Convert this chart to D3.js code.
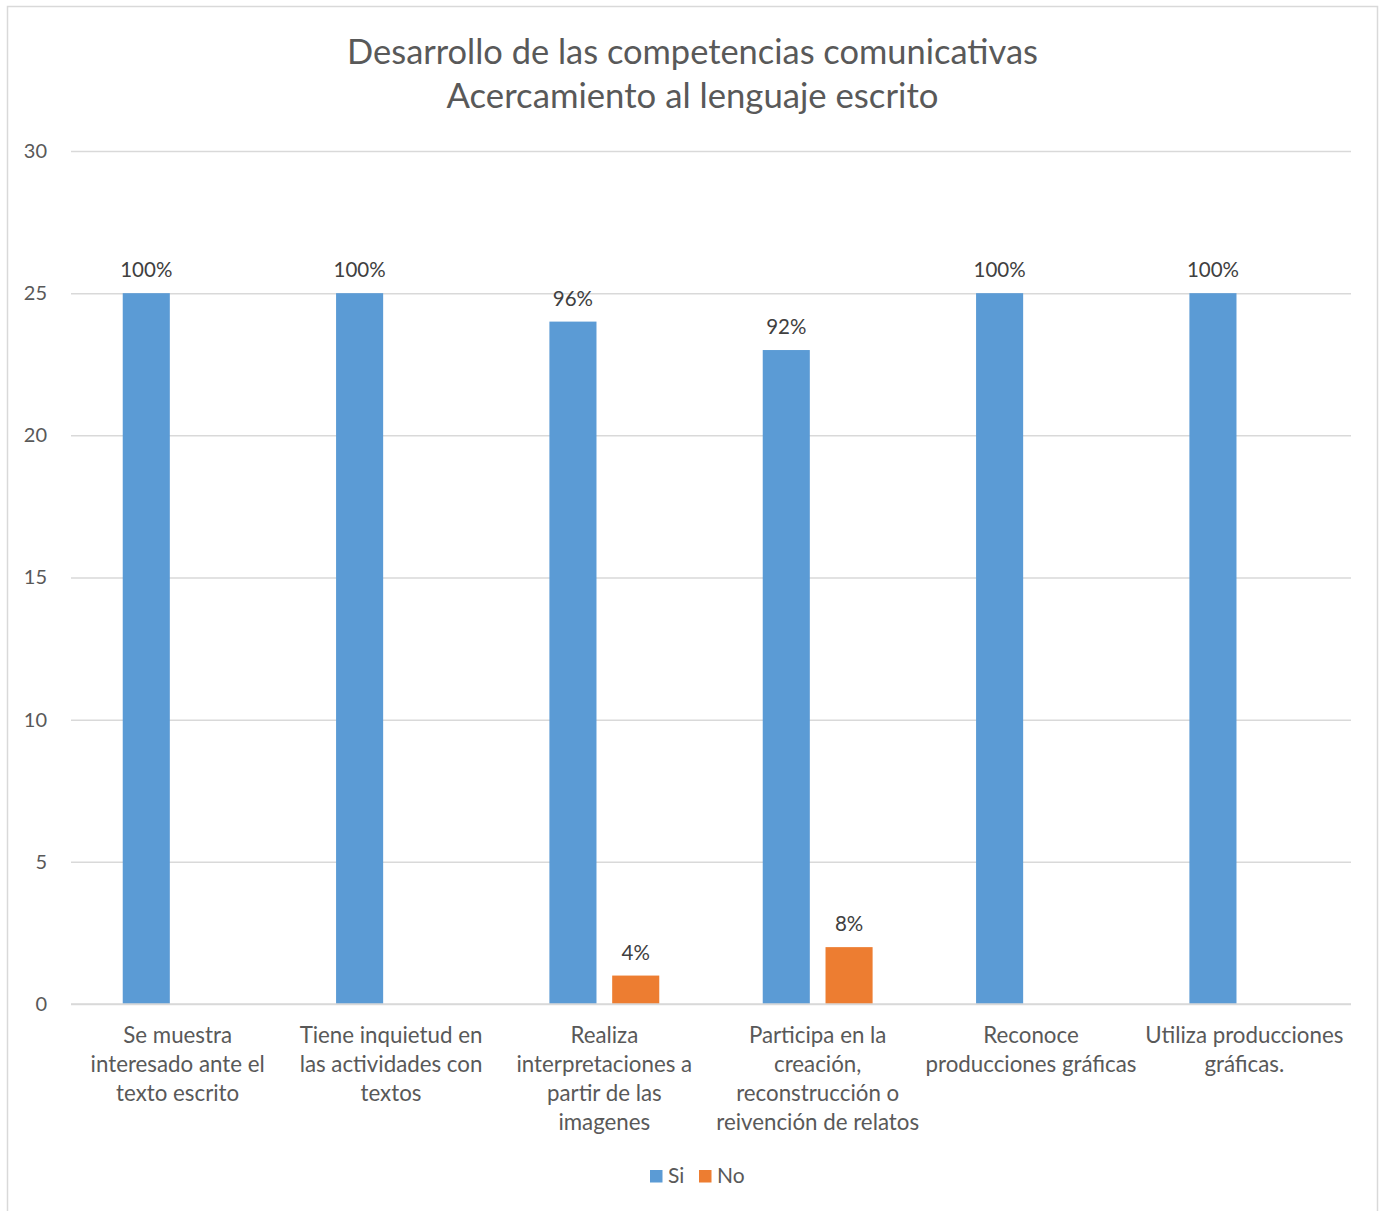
<!DOCTYPE html>
<html>
<head>
<meta charset="utf-8">
<script src="https://cdn.jsdelivr.net/npm/d3@7"></script>
<style>
  html, body { margin: 0; padding: 0; background: #fff; }
  svg { display: block; font-family: Lato, "Open Sans", sans-serif; }
</style>
</head>
<body>
<svg id="chart" width="1380" height="1211"></svg>
<script>
const titleLines = ["Desarrollo de las competencias comunicativas", "Acercamiento al lenguaje escrito"];
const categories = [
  "Se muestra interesado ante el texto escrito",
  "Tiene inquietud en las actividades con textos",
  "Realiza interpretaciones a partir de las imagenes",
  "Participa en la creación, reconstrucción o reivención de relatos",
  "Reconoce producciones gráficas",
  "Utiliza producciones gráficas."
];
const categoryLines = [
  ["Se muestra", "interesado ante el", "texto escrito"],
  ["Tiene inquietud en", "las actividades con", "textos"],
  ["Realiza", "interpretaciones a", "partir de las", "imagenes"],
  ["Participa en la", "creación,", "reconstrucción o", "reivención de relatos"],
  ["Reconoce", "producciones gráficas"],
  ["Utiliza producciones", "gráficas."]
];
const seriesNames = ["Si", "No"];
const siValues = [25, 25, 24, 23, 25, 25];
const noValues = [0, 0, 1, 2, 0, 0];
const siLabels = ["100%", "100%", "96%", "92%", "100%", "100%"];
const noLabels = ["", "", "4%", "8%", "", ""];
const yTicks = [0, 5, 10, 15, 20, 25, 30];

const colors = { Si: "#5b9bd5", No: "#ed7d31" };
const textColor = "#595959";
const gridColor = "#d9d9d9";

const svg = d3.select("#chart");
const plot = { left: 71, right: 1351, top: 151, bottom: 1004 };

// border
svg.append("rect").attr("x", 7.5).attr("y", 6.5).attr("width", 1370).attr("height", 1215)
  .attr("fill", "#fff").attr("stroke", gridColor).attr("stroke-width", 1.5);

// title
const titleTargets = [691, 492];
const titleY = [64, 108];
titleLines.forEach((t, i) => {
  const el = svg.append("text").attr("x", 692.5).attr("y", titleY[i])
    .attr("text-anchor", "middle").attr("fill", textColor)
    .attr("font-size", 32).text(t);
  const w = el.node().getComputedTextLength();
  el.attr("font-size", 32 * titleTargets[i] / w);
});

const y = d3.scaleLinear().domain([0, 30]).range([plot.bottom, plot.top]);
const x0 = d3.scaleBand().domain(categories).range([plot.left, plot.right])
  .paddingInner(0.485).paddingOuter(0.2425);
const x1 = d3.scaleBand().domain(seriesNames).range([0, x0.bandwidth()])
  .paddingInner(0.25).paddingOuter(0);

// gridlines + y axis
const yAxis = d3.axisLeft(y).tickValues(yTicks).tickSize(-(plot.right - plot.left)).tickPadding(24);
const gy = svg.append("g").attr("transform", `translate(${plot.left},0)`).call(yAxis);
gy.select(".domain").remove();
gy.selectAll(".tick line").attr("stroke", gridColor).attr("stroke-width", 1.5);
gy.selectAll(".tick text").attr("fill", textColor).attr("font-size", 20)
  .attr("font-family", "Lato, 'Open Sans', sans-serif");

// bars
const data = categories.map((c, i) => ({
  cat: c,
  vals: [
    { key: "Si", v: siValues[i], label: siLabels[i] },
    { key: "No", v: noValues[i], label: noLabels[i] }
  ]
}));

const groups = svg.append("g").selectAll("g").data(data).join("g")
  .attr("transform", d => `translate(${x0(d.cat)},0)`);

groups.selectAll("rect").data(d => d.vals.filter(v => v.v > 0)).join("rect")
  .attr("x", d => x1(d.key))
  .attr("y", d => y(d.v))
  .attr("width", x1.bandwidth())
  .attr("height", d => y(0) - y(d.v))
  .attr("fill", d => colors[d.key]);

groups.selectAll("text.lbl").data(d => d.vals.filter(v => v.v > 0 && v.label)).join("text")
  .attr("class", "lbl")
  .attr("x", d => x1(d.key) + x1.bandwidth() / 2)
  .attr("y", d => y(d.v) - 16)
  .attr("text-anchor", "middle")
  .attr("fill", "#404040")
  .attr("font-size", 20.5)
  .text(d => d.label);

// baseline axis
svg.append("line").attr("x1", plot.left).attr("x2", plot.right)
  .attr("y1", y(0)).attr("y2", y(0)).attr("stroke", gridColor).attr("stroke-width", 1.5);

// category labels
const catG = svg.append("g");
categories.forEach((c, i) => {
  const cx = x0(c) + x0.bandwidth() / 2;
  const t = catG.append("text").attr("text-anchor", "middle").attr("fill", textColor)
    .attr("font-size", 22.3);
  categoryLines[i].forEach((ln, j) => {
    t.append("tspan").attr("x", cx).attr("y", 1043 + j * 29).text(ln);
  });
});

// legend
const legend = svg.append("g");
const legendItems = [{ name: "Si", x: 650 }, { name: "No", x: 699 }];
legendItems.forEach(it => {
  legend.append("rect").attr("x", it.x).attr("y", 1170).attr("width", 12.5).attr("height", 12.5)
    .attr("fill", colors[it.name]);
  legend.append("text").attr("x", it.x + 18).attr("y", 1183).attr("fill", textColor)
    .attr("font-size", 21).text(it.name);
});
</script>
</body>
</html>
